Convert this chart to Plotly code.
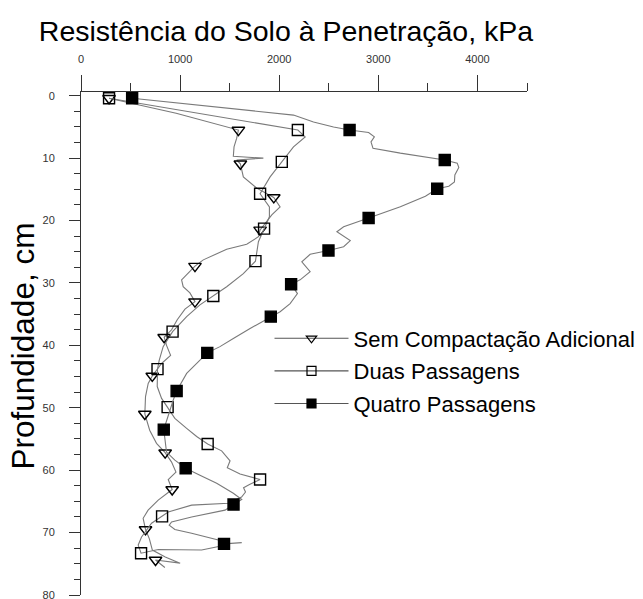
import plotly.graph_objects as go

# ---- data (depth in cm, resistance in kPa) ----
series_names = ["Sem Compactação Adicional", "Duas Passagens", "Quatro Passagens"]

depth_sem = [0.4, 2.8, 5.5, 6.8, 8.2, 9.7, 10.0, 10.3, 10.9, 13.0, 14.8, 16.3, 17.8, 19.1,
             21.5, 22.6, 23.8, 24.6, 26.3, 27.3, 29.5, 30.6, 31.6, 33.0, 34.2, 35.9, 37.5,
             38.7, 40.0, 41.6, 42.9, 44.9, 46.1, 48.2, 51.0, 53.6, 55.7, 57.2, 58.7, 60.3,
             61.5, 63.1, 64.8, 66.4, 67.7, 69.5, 71.0, 72.8, 73.9, 74.9, 74.4, 75.6]
res_sem = [283, 960, 1588, 1571, 1544, 1537, 1840, 1571, 1608, 1638, 1773, 1945, 2009, 1925,
           1807, 1790, 1672, 1470, 1234, 1150, 1015, 1031, 1099, 1150, 1049, 971, 914,
           839, 863, 904, 813, 719, 678, 651, 644, 693, 762, 849, 914, 958,
           880, 920, 779, 677, 627, 651, 690, 720, 850, 1000, 752, 846]
marks_sem = [0, 2, 8, 11, 14, 19, 23, 27, 31, 34, 37, 41, 45, 50]

depth_duas = [0.4, 2.9, 5.5, 6.6, 8.2, 10.6, 13.0, 15.7, 17.8, 19.4, 21.3, 23.4, 26.5, 28.5,
              30.6, 32.1, 33.5, 35.4, 37.8, 40.2, 42.4, 43.8, 46.6, 48.5, 49.9, 51.7, 53.3,
              54.6, 55.8, 56.9, 58.5, 59.6, 60.6, 61.5, 62.3, 62.8, 63.5, 64.3, 65.3, 65.6,
              66.7, 67.4, 68.5, 70.7, 72.0, 73.3, 72.7, 72.8, 72.2]
res_duas = [283, 1230, 2188, 2262, 2144, 2026, 1908, 1807, 1901, 1901, 1847, 1790, 1760, 1638,
            1470, 1335, 1200, 1066, 924, 829, 789, 772, 769, 813, 874, 947, 1066,
            1167, 1278, 1419, 1504, 1476, 1605, 1807, 1700, 1640, 1660, 1620, 1487, 1116,
            880, 818, 712, 611, 577, 606, 779, 1217, 1402]
marks_duas = [0, 2, 5, 7, 10, 12, 15, 18, 21, 24, 28, 33, 41, 45]

depth_quatro = [0.4, 2.0, 3.1, 4.2, 5.0, 5.5, 5.9, 6.6, 7.4, 8.4, 9.2, 10.3, 10.8, 11.5, 12.7,
                13.8, 14.5, 14.9, 16.1, 17.8, 18.7, 19.6, 21.0, 21.8, 23.2, 24.2, 24.8, 25.4,
                26.6, 28.2, 29.5, 30.2, 31.7, 33.3, 34.6, 35.4, 37.3, 38.9, 40.2, 41.2, 42.9,
                44.5, 47.3, 48.8, 53.5, 55.2, 57.1, 58.4, 59.7, 60.8, 62.1, 63.7, 64.7, 65.5,
                66.4, 67.5, 68.3, 68.8, 69.5, 70.1, 71.2, 71.8, 71.6]
res_quatro = [516, 1470, 2144, 2346, 2548, 2710, 2902, 2960, 2926, 2946, 3222, 3670, 3796, 3812, 3772,
              3768, 3711, 3594, 3475, 3222, 3054, 2902, 2650, 2582, 2717, 2650, 2497, 2312,
              2228, 2312, 2211, 2120, 2184, 2110, 2009, 1915, 1706, 1537, 1402, 1274, 1167,
              1066, 965, 930, 835, 846, 863, 947, 1056, 1200, 1369, 1537, 1622, 1539,
              1453, 1116, 914, 890, 947, 1116, 1385, 1443, 1622]
marks_quatro = [0, 5, 11, 17, 21, 26, 31, 35, 39, 42, 44, 48, 53, 61]

x_ticks = [0, 1000, 2000, 3000, 4000]
y_ticks = [0, 10, 20, 30, 40, 50, 60, 70, 80]

title_text = "Resistência do Solo à Penetração, kPa"
ytitle_text = "Profundidade, cm"

FONT = "Liberation Sans, Arial, sans-serif"
LINE_COLOR = "#7a7a7a"

W, H = 643, 599
ML, MR, MT, MB = 81, 116, 92, 4
PW, PH = W - ML - MR, H - MT - MB

def px_x(ax):  # page x -> paper x
    return (ax - ML) / PW

def px_y(ay):  # page y -> paper y
    return (H - MB - ay) / PH

styles = [
    dict(symbol="triangle-down-open", color="black"),
    dict(symbol="square-open", color="black"),
    dict(symbol="square", color="black"),
]

fig = go.Figure()
data = [(depth_sem, res_sem, marks_sem), (depth_duas, res_duas, marks_duas),
        (depth_quatro, res_quatro, marks_quatro)]
for k, (name, (d, r, m), st) in enumerate(zip(series_names, data, styles)):
    fig.add_trace(go.Scatter(x=r, y=d, mode="lines", showlegend=False,
                             line=dict(color=LINE_COLOR, width=1.1), hoverinfo="skip"))
    fig.add_trace(go.Scatter(x=[r[i] for i in m], y=[d[i] for i in m], mode="markers",
                             showlegend=False,
                             marker=dict(symbol=st["symbol"], size=11, color=st["color"],
                                         line=dict(color="black", width=1.4))))
    # legend entry (line with centered marker)
    fig.add_trace(go.Scatter(x=[None], y=[None], mode="lines+markers", name=name,
                             legendgroup=f"g{k}",
                             line=dict(color="#555555", width=1.1),
                             marker=dict(symbol=st["symbol"], size=9, color=st["color"],
                                         line=dict(color="black", width=1.2))))

fig.update_layout(
    width=W, height=H,
    margin=dict(l=ML, r=MR, t=MT, b=MB, autoexpand=False),
    paper_bgcolor="white", plot_bgcolor="white",
    font=dict(family=FONT, color="black"),
    title=dict(text=title_text, x=286 / W, xref="container", xanchor="center",
               y=1 - 31 / H, yref="container", yanchor="middle",
               font=dict(size=28.5, family=FONT, color="black")),
    legend=dict(x=px_x(269.5), xanchor="left", y=px_y(317.5), yanchor="top",
                font=dict(size=22, family=FONT, color="black"),
                itemwidth=74, tracegroupgap=1, bgcolor="rgba(0,0,0,0)"),
    annotations=[dict(text=ytitle_text, textangle=-90, x=px_x(22), y=px_y(346.5),
                      xref="paper", yref="paper", xanchor="center", yanchor="middle",
                      showarrow=False, font=dict(size=31.5, family=FONT, color="black"))],
)

fig.update_xaxes(range=[0, 4500], side="top", tickvals=x_ticks, automargin=False,
                 ticks="outside", ticklen=16, tickwidth=1, tickcolor="#333",
                 minor=dict(dtick=500, ticklen=8, tickcolor="#333", ticks="outside"),
                 showline=True, linecolor="#333", linewidth=1, showgrid=False, zeroline=False,
                 tickfont=dict(size=11, color="#333"), ticklabelstandoff=8,
                 ticklabeloverflow="allow")
fig.update_yaxes(range=[80, -0.6], tickvals=y_ticks, automargin=False,
                 ticks="outside", ticklen=11, tickwidth=1, tickcolor="#333",
                 minor=dict(dtick=2.5, ticklen=6, tickcolor="#333", ticks="outside"),
                 showline=True, linecolor="#333", linewidth=1, showgrid=False, zeroline=False,
                 tickfont=dict(size=11, color="#333"), ticklabelstandoff=12,
                 ticklabeloverflow="allow")

# the page body has a default 8px margin; remove it so the figure fills the window
fig.write_html("out.html", config={"displayModeBar": False},
               post_script="document.body.style.margin='0px';")
